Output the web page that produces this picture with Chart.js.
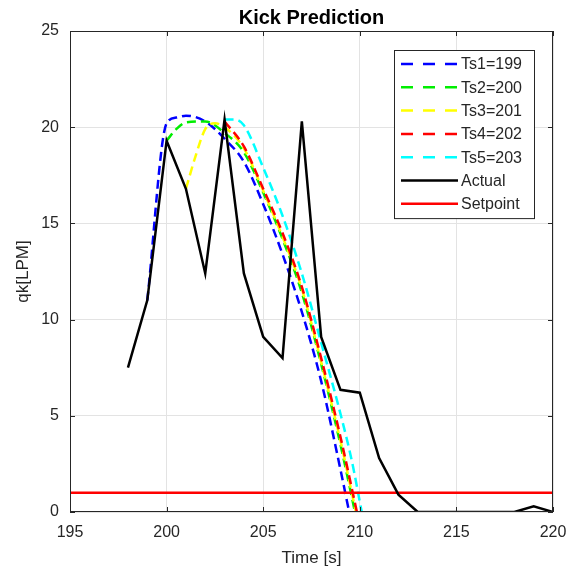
<!DOCTYPE html>
<html>
<head>
<meta charset="utf-8">
<title>Kick Prediction</title>
<script src="https://cdn.jsdelivr.net/npm/chart.js@4.4.1/dist/chart.umd.min.js"></script>
<style>
  html, body { margin: 0; padding: 0; background: #fff; }
  #wrap { width: 578px; height: 575px; }
</style>
</head>
<body>
<div id="wrap"><canvas id="kickChart" width="578" height="575"></canvas></div>
<script>
// measured flow
var actualTimes = [198, 199, 200, 201, 202, 203, 204, 205, 206, 207, 208, 209, 210, 211, 212, 213, 214, 215, 216, 217, 218, 219, 220];
var actualValues = [7.5, 11.0, 19.3, 16.8, 12.4, 20.4, 12.4, 9.1, 8.0, 20.3, 9.1, 6.35, 6.2, 2.8, 0.9, 0, 0, 0, 0, 0, 0, 0.3, 0];

// predictions started at each Ts
var ts1Times = [199, 200, 200.5, 201, 202, 203, 204, 205, 206, 207, 208, 209, 209.45];
var ts1Values = [11.0, 20.2, 20.5, 20.6, 20.3, 19.4, 18.2, 16.0, 13.4, 10.4, 6.8, 2.2, 0];

var ts2Times = [200, 200.5, 201, 202, 203, 204, 205, 206, 207, 208, 209, 209.75];
var ts2Values = [19.3, 19.9, 20.25, 20.3, 19.7, 18.7, 16.6, 14.2, 11.4, 7.7, 3.5, 0];

var ts3Times = [201, 201.5, 202, 202.5, 203, 204, 205, 206, 207, 208, 209, 209.8];
var ts3Values = [16.8, 18.5, 19.9, 20.2, 20.0, 18.9, 16.7, 14.3, 11.6, 7.8, 3.7, 0];

var ts4Times = [203, 204, 205, 206, 207, 208, 209, 209.85];
var ts4Values = [20.3, 19.0, 16.8, 14.5, 11.7, 8.0, 3.9, 0];

var ts5Times = [203, 203.5, 204, 205, 206, 207, 208, 209, 209.6, 210.1];
var ts5Values = [20.4, 20.4, 20.1, 17.9, 15.4, 12.4, 8.8, 5.1, 2.6, 0];

var setpointTimes = [195, 220];
var setpointValues = [1, 1];

var xTicks = [195, 200, 205, 210, 215, 220];
var yTicks = [0, 5, 10, 15, 20, 25];

var seriesLabels = ["Ts1=199", "Ts2=200", "Ts3=201", "Ts4=202", "Ts5=203", "Actual", "Setpoint"];
var seriesColors = ["#0000ff", "#00ee00", "#ffff00", "#ff0000", "#00ffff", "#000000", "#ff0000"];

function pts(times, values) {
  return times.map(function (t, i) { return { x: t, y: values[i] }; });
}

var FONT = "'Liberation Sans', Arial, Helvetica, sans-serif";

function predSet(i, times, values) {
  return {
    label: seriesLabels[i],
    data: pts(times, values),
    borderColor: seriesColors[i],
    borderWidth: 2.5,
    borderDash: [9, 5],
    cubicInterpolationMode: "monotone",
    pointRadius: 0,
    fill: false,
    order: 6 - i,
  };
}

// box round the axes with inward ticks, like matlab
var axesBox = {
  id: "axesBox",
  afterDatasetsDraw: function (chart) {
    var ctx = chart.ctx, a = chart.chartArea, x = chart.scales.x, y = chart.scales.y;
    ctx.save();
    ctx.strokeStyle = "#262626";
    ctx.lineWidth = 1;
    ctx.strokeRect(a.left + 0.5, a.top + 0.5, a.right - a.left - 1, a.bottom - a.top - 1);
    ctx.beginPath();
    xTicks.forEach(function (v) {
      var px = Math.round(x.getPixelForValue(v)) + 0.5;
      ctx.moveTo(px, a.bottom); ctx.lineTo(px, a.bottom - 5);
      ctx.moveTo(px, a.top); ctx.lineTo(px, a.top + 5);
    });
    yTicks.forEach(function (v) {
      var py = Math.round(y.getPixelForValue(v)) + 0.5;
      ctx.moveTo(a.left, py); ctx.lineTo(a.left + 5, py);
      ctx.moveTo(a.right, py); ctx.lineTo(a.right - 5, py);
    });
    ctx.stroke();
    ctx.restore();
  },
};

// legend box inside the plot, top right
var boxLegend = {
  id: "boxLegend",
  afterDraw: function (chart) {
    var ctx = chart.ctx, a = chart.chartArea;
    var sets = chart.data.datasets;
    var left = a.right - 159, top = a.top + 19, w = 140, rowH = 23.3;
    var h = rowH * sets.length + 5;
    ctx.save();
    ctx.fillStyle = "#ffffff";
    ctx.fillRect(left, top, w, h);
    ctx.strokeStyle = "#262626";
    ctx.lineWidth = 1;
    ctx.strokeRect(left + 0.5, top + 0.5, w, h);
    ctx.font = "16px " + FONT;
    ctx.textBaseline = "middle";
    sets.forEach(function (ds, i) {
      var cy = top + 14 + i * rowH;
      ctx.beginPath();
      ctx.setLineDash(ds.borderDash ? [12, 10] : []);
      ctx.strokeStyle = ds.borderColor;
      ctx.lineWidth = 2.5;
      ctx.moveTo(left + 7, cy);
      ctx.lineTo(left + 64, cy);
      ctx.stroke();
      ctx.setLineDash([]);
      ctx.fillStyle = "#262626";
      ctx.fillText(ds.label, left + 67, cy + 1);
    });
    ctx.restore();
  },
};

var ctx = document.getElementById("kickChart").getContext("2d");
var kickChart = new Chart(ctx, {
  type: "line",
  data: {
    datasets: [
      predSet(0, ts1Times, ts1Values),
      predSet(1, ts2Times, ts2Values),
      predSet(2, ts3Times, ts3Values),
      predSet(3, ts4Times, ts4Values),
      predSet(4, ts5Times, ts5Values),
      {
        label: seriesLabels[5],
        data: pts(actualTimes, actualValues),
        borderColor: seriesColors[5],
        borderWidth: 2.5,
        pointRadius: 0,
        tension: 0,
        fill: false,
        order: 0,
      },
      {
        label: seriesLabels[6],
        data: pts(setpointTimes, setpointValues),
        borderColor: seriesColors[6],
        borderWidth: 2.5,
        pointRadius: 0,
        fill: false,
        order: 1,
      },
    ],
  },
  options: {
    responsive: false,
    animation: false,
    devicePixelRatio: 1,
    layout: { padding: { left: 0, right: 25, top: 0, bottom: 0 } },
    scales: {
      x: {
        type: "linear",
        min: 195,
        max: 220,
        afterBuildTicks: function (s) { s.ticks = xTicks.map(function (v) { return { value: v }; }); },
        afterFit: function (s) { s.height = 63; },
        ticks: { padding: 11, color: "#262626", font: { family: FONT, size: 16 } },
        grid: { color: "#e3e3e3", drawTicks: false },
        border: { display: false },
        title: { display: true, text: "Time [s]", color: "#262626", font: { family: FONT, size: 17 }, padding: { top: 0, bottom: 6 } },
      },
      y: {
        min: 0,
        max: 25,
        afterBuildTicks: function (s) { s.ticks = yTicks.map(function (v) { return { value: v }; }); },
        afterFit: function (s) { s.width = 70; },
        ticks: { padding: 11, color: "#262626", font: { family: FONT, size: 16 } },
        grid: { color: "#e3e3e3", drawTicks: false },
        border: { display: false },
        title: { display: true, text: "qk[LPM]", color: "#262626", font: { family: FONT, size: 17 }, padding: { top: 13, bottom: 0 } },
      },
    },
    plugins: {
      legend: { display: false },
      tooltip: { enabled: false },
      title: {
        display: true,
        fullSize: false,
        text: "Kick Prediction",
        color: "#000000",
        font: { family: FONT, size: 20, weight: "bold" },
        padding: { top: 6, bottom: 1 },
      },
    },
  },
  plugins: [axesBox, boxLegend],
});
</script>
</body>
</html>
